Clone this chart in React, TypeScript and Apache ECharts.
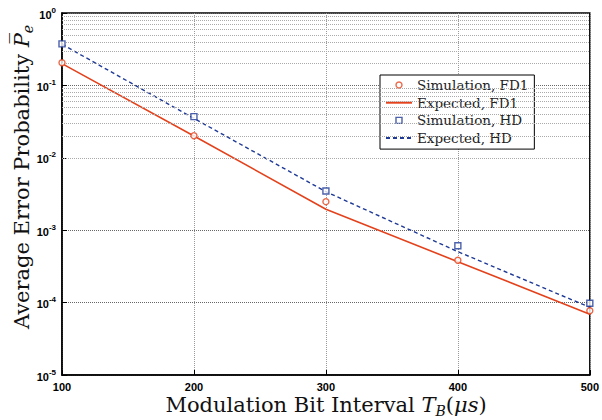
import React, { useEffect, useRef } from "react";
import * as echarts from "echarts";

const xValues = [100, 200, 300, 400, 500];
const simFD1 = [0.205, 0.0202, 0.00248, 0.000384, 7.7e-5];
const expFD1 = [0.2, 0.02, 0.00195, 0.000367, 6.9e-5];
const simHD = [0.375, 0.037, 0.00348, 0.00061, 9.8e-5];
const expHD = [0.37, 0.035, 0.0034, 0.000505, 8.6e-5];
const minorGrid: number[] = [];
for (let d = -5; d < 0; d++) {
  for (let m = 2; m <= 9; m++) minorGrid.push(m * Math.pow(10, d));
}

const RED = "#e4421c";
const BLUE = "#1f3a96";
const SERIF = "'DejaVu Serif', 'Liberation Serif', serif";
const SANS = "'Liberation Sans', Arial, sans-serif";

export default function App() {
  const ref = useRef<HTMLDivElement>(null);
  useEffect(() => {
    const chart = echarts.init(ref.current!, null, { renderer: "svg" });
    const pairs = (ys: number[]) => xValues.map((x, i) => [x, ys[i]]);
    const titleRich = {
      r: { fontFamily: SERIF, fontSize: 21, fill: "#111", lineHeight: 26, verticalAlign: "middle" },
      i: { fontFamily: SERIF, fontSize: 21, fontStyle: "italic", fill: "#111", lineHeight: 26, verticalAlign: "middle" },
      s: { fontFamily: SERIF, fontSize: 14, fontStyle: "italic", fill: "#111", lineHeight: 20, verticalAlign: "bottom" },
    };
    chart.setOption({
      animation: false,
      backgroundColor: "#fff",
      grid: { left: 62, right: 10, top: 13, bottom: 45, show: true, borderColor: "#000", borderWidth: 1.5, backgroundColor: "transparent" },
      xAxis: {
        type: "value",
        min: 100,
        max: 500,
        interval: 100,
        axisLine: { show: true, lineStyle: { color: "#000", width: 1.5 } },
        axisTick: { show: true, inside: true, length: 5, lineStyle: { color: "#000" } },
        axisLabel: { color: "#000", fontFamily: SANS, fontWeight: "bold", fontSize: 11, margin: 6 },
        splitLine: { show: true, lineStyle: { type: "dotted", color: "#999", width: 1 } },
      },
      yAxis: {
        type: "log",
        logBase: 10,
        min: 1e-5,
        max: 1,
        axisLine: { show: true, lineStyle: { color: "#000", width: 1.5 } },
        axisTick: { show: true, inside: true, length: 5, lineStyle: { color: "#000" } },
        axisLabel: {
          margin: 6,
          formatter: (v: number) => `{b|10}{s|${Math.round(Math.log10(v))}}`,
          rich: {
            b: { fontFamily: SANS, fontWeight: "bold", fontSize: 11, color: "#000", verticalAlign: "bottom", lineHeight: 14 },
            s: { fontFamily: SANS, fontWeight: "bold", fontSize: 8, color: "#000", verticalAlign: "top", lineHeight: 14 },
          },
        },
        splitLine: { show: true, lineStyle: { type: "dotted", color: "#666", width: 1 } },
      },
      legend: {
        orient: "vertical",
        left: 380,
        top: 75,
        backgroundColor: "#fff",
        borderColor: "#000",
        borderWidth: 1,
        padding: [3, 6, 4, 5],
        itemWidth: 26,
        itemHeight: 6,
        itemGap: 3.7,
        textStyle: { fontFamily: SERIF, fontSize: 13.5, color: "#222", lineHeight: 14 },
        data: [
          { name: "Simulation, FD1", icon: "circle", itemStyle: { color: "#fff", borderColor: RED, borderWidth: 1.4 } },
          { name: "Expected, FD1", itemStyle: { opacity: 0 } },
          { name: "Simulation, HD", icon: "path://M0,0L10,0L10,10L0,10Z", itemStyle: { color: "#fff", borderColor: BLUE, borderWidth: 1.4 } },
          { name: "Expected, HD", itemStyle: { opacity: 0 } },
        ],
      },
      graphic: [
        {
          type: "text",
          x: 326,
          y: 405,
          style: {
            text: "{r|Modulation Bit Interval }{i|T}{s|B}{r|(}{i|μs}{r|)}",
            align: "center",
            verticalAlign: "middle",
            rich: titleRich,
          },
        },
        {
          type: "text",
          x: 22,
          y: 177,
          rotation: Math.PI / 2,
          style: {
            text: "{r|Average Error Probability }{i|P\u0305}{s|e}",
            align: "center",
            verticalAlign: "middle",
            rich: titleRich,
          },
        },
      ],
      series: [
        {
          name: "Simulation, FD1",
          type: "scatter",
          data: pairs(simFD1),
          symbol: "circle",
          symbolSize: 6,
          itemStyle: { color: "#fff", borderColor: RED, borderWidth: 1.4 },
          z: 5,
        },
        {
          name: "Expected, FD1",
          type: "line",
          data: pairs(expFD1),
          symbol: "none",
          lineStyle: { color: RED, width: 1.6 },
          itemStyle: { color: RED },
          markLine: {
            silent: true,
            symbol: ["none", "none"],
            label: { show: false },
            lineStyle: { type: "dotted", color: "#aaa", width: 1 },
            data: minorGrid.map((v) => ({ yAxis: v })),
          },
        },
        {
          name: "Simulation, HD",
          type: "scatter",
          data: pairs(simHD),
          symbol: "rect",
          symbolSize: 6,
          itemStyle: { color: "#fff", borderColor: BLUE, borderWidth: 1.4 },
          z: 5,
        },
        {
          name: "Expected, HD",
          type: "line",
          data: pairs(expHD),
          symbol: "none",
          lineStyle: { color: BLUE, width: 1.4, type: [4, 3] },
          itemStyle: { color: BLUE },
        },
      ],
    });
    return () => chart.dispose();
  }, []);
  return <div ref={ref} style={{ width: 602, height: 420, position: "absolute", left: 0, top: 0 }} />;
}
